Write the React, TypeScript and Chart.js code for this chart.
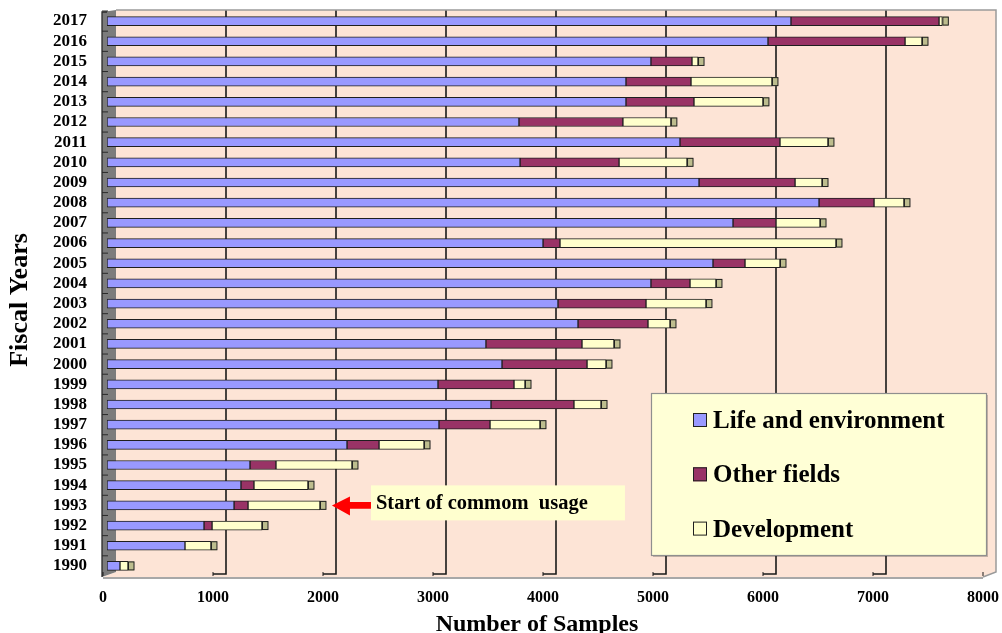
import React, { useEffect, useRef } from 'react';
import { Chart, registerables } from 'chart.js';

Chart.register(...registerables);

// Fiscal years, bottom (1990) to top (2017)
const years = [
  '1990', '1991', '1992', '1993', '1994', '1995', '1996', '1997', '1998', '1999',
  '2000', '2001', '2002', '2003', '2004', '2005', '2006', '2007', '2008', '2009',
  '2010', '2011', '2012', '2013', '2014', '2015', '2016', '2017',
];

// Number of samples per field
const lifeAndEnvironment = [
  118, 709, 882, 1155, 1218, 1300, 2182, 3018, 3491, 3009,
  3591, 3445, 4282, 4100, 4945, 5509, 3964, 5691, 6473, 5382,
  3755, 5209, 3745, 4718, 4718, 4945, 6009, 6218,
];
const otherFields = [
  0, 0, 73, 127, 118, 236, 291, 464, 754, 691,
  773, 873, 636, 800, 355, 291, 154, 391, 500, 873,
  900, 909, 945, 618, 591, 373, 1246, 1346,
];
const development = [
  73, 236, 454, 654, 491, 691, 409, 454, 246, 100,
  172, 291, 200, 545, 236, 318, 2509, 400, 272, 245,
  618, 436, 436, 627, 736, 55, 154, 30,
];

const sampleTicks = [0, 1000, 2000, 3000, 4000, 5000, 6000, 7000, 8000];

const SERIF = "'Liberation Serif', 'Times New Roman', serif";
const PEACH = '#FDE4D6';
const BLUE = '#9999FF';
const MAROON = '#993366';
const CREAM = '#FFFFCC';
const OUTLINE = '#1f1f1f';

// depth offsets of the 3-D box, in pixels relative to the bar plane
const BACK_DX = 9;
const FRONT_DX = -4;
const WALL_TOP = 10;
const BACK_BOTTOM = 572;
const FRONT_BOTTOM = 577;

const wallPlugin = {
  id: 'wall3d',
  beforeDatasetsDraw(chart: any) {
    const { ctx } = chart;
    const xs = chart.scales.x;
    const ys = chart.scales.y;
    const X = (v: number) => xs.getPixelForValue(v);
    const left = X(sampleTicks[0]);
    const right = X(sampleTicks[sampleTicks.length - 1]);
    ctx.save();

    // back wall
    ctx.fillStyle = PEACH;
    ctx.fillRect(left + BACK_DX, WALL_TOP, right - left, BACK_BOTTOM - WALL_TOP);
    // floor
    ctx.beginPath();
    ctx.moveTo(left + BACK_DX, BACK_BOTTOM);
    ctx.lineTo(right + BACK_DX, BACK_BOTTOM);
    ctx.lineTo(right + FRONT_DX, FRONT_BOTTOM);
    ctx.lineTo(left + FRONT_DX, FRONT_BOTTOM);
    ctx.closePath();
    ctx.fill();

    // floor front shadow
    ctx.strokeStyle = '#a8a8a8';
    ctx.lineWidth = 2;
    ctx.beginPath();
    ctx.moveTo(left + FRONT_DX, FRONT_BOTTOM + 1);
    ctx.lineTo(right + FRONT_DX, FRONT_BOTTOM + 1);
    ctx.stroke();

    // grey side wall
    ctx.fillStyle = '#7c7c7c';
    ctx.beginPath();
    ctx.moveTo(left + FRONT_DX - 1, WALL_TOP + 2);
    ctx.lineTo(left + BACK_DX, WALL_TOP);
    ctx.lineTo(left + BACK_DX, BACK_BOTTOM);
    ctx.lineTo(left + FRONT_DX - 1, FRONT_BOTTOM);
    ctx.closePath();
    ctx.fill();
    ctx.strokeStyle = '#2a2a2a';
    ctx.lineWidth = 1.3;
    ctx.beginPath();
    ctx.moveTo(left + FRONT_DX + 4, WALL_TOP + 2);
    ctx.lineTo(left + FRONT_DX - 1, WALL_TOP + 2);
    ctx.lineTo(left + FRONT_DX - 1, FRONT_BOTTOM);
    ctx.stroke();

    // category tick marks on the side wall
    const n = years.length;
    const step = Math.abs(ys.getPixelForValue(0) - ys.getPixelForValue(1));
    ctx.lineWidth = 1;
    for (let i = 0; i < n; i++) {
      const yb = ys.getPixelForValue(i) - step / 2;
      ctx.beginPath();
      ctx.moveTo(left + FRONT_DX - 1, yb);
      ctx.lineTo(left + FRONT_DX + 5, yb);
      ctx.stroke();
    }

    // vertical gridlines on the back wall with their floor segments
    ctx.strokeStyle = '#1a1a1a';
    for (const v of sampleTicks) {
      const bx = X(v) + BACK_DX;
      const fx = X(v) + FRONT_DX;
      ctx.lineWidth = 1;
      ctx.beginPath();
      ctx.moveTo(fx, BACK_BOTTOM);
      ctx.lineTo(fx, FRONT_BOTTOM - 1);
      ctx.stroke();
      if (v === sampleTicks[0] || v === sampleTicks[sampleTicks.length - 1]) continue;
      ctx.lineWidth = 1.6;
      ctx.beginPath();
      ctx.moveTo(bx, WALL_TOP);
      ctx.lineTo(bx, BACK_BOTTOM + 2);
      ctx.lineTo(fx, BACK_BOTTOM + 2);
      ctx.stroke();
    }

    // outer frame of the back wall
    ctx.strokeStyle = '#9a9a9a';
    ctx.lineWidth = 1.5;
    ctx.beginPath();
    ctx.moveTo(left + BACK_DX, WALL_TOP);
    ctx.lineTo(right + BACK_DX, WALL_TOP);
    ctx.lineTo(right + BACK_DX, BACK_BOTTOM);
    ctx.lineTo(right + FRONT_DX, FRONT_BOTTOM);
    ctx.stroke();
    ctx.restore();
  },
  afterDatasetsDraw(chart: any) {
    // end caps showing the depth of each stacked bar
    const { ctx } = chart;
    const sets = chart.data.datasets;
    ctx.save();
    for (let j = 0; j < years.length; j++) {
      let k = -1;
      for (let d = 0; d < sets.length; d++) if (sets[d].data[j] > 0) k = d;
      if (k < 0) continue;
      const el = chart.getDatasetMeta(k).data[j];
      const { x, y, height } = el.getProps(['x', 'y', 'height'], true);
      const top = y - height / 2;
      ctx.fillStyle = '#BDBD8E';
      ctx.fillRect(x, top, 6, height);
      ctx.strokeStyle = OUTLINE;
      ctx.lineWidth = 1;
      ctx.strokeRect(x + 0.5, top + 0.5, 5.5, height - 1);
    }
    ctx.restore();
  },
  afterDraw(chart: any) {
    const { ctx } = chart;
    const xs = chart.scales.x;
    const ys = chart.scales.y;
    ctx.save();

    // axis titles
    ctx.fillStyle = '#000';
    ctx.font = `bold 26px ${SERIF}`;
    ctx.textAlign = 'center';
    ctx.textBaseline = 'alphabetic';
    ctx.save();
    ctx.translate(27, 300);
    ctx.rotate(-Math.PI / 2);
    ctx.fillText('Fiscal Years', 0, 0);
    ctx.restore();
    ctx.font = `bold 24px ${SERIF}`;
    ctx.fillText('Number of Samples', 537, 631);

    // legend box
    const lx = 651, ly = 393, lw = 335, lh = 162;
    ctx.fillStyle = 'rgba(0,0,0,0.22)';
    ctx.fillRect(lx + 2, ly + 2, lw, lh);
    ctx.fillStyle = '#FFFFD6';
    ctx.fillRect(lx, ly, lw, lh);
    ctx.strokeStyle = '#8f8f8f';
    ctx.lineWidth = 1.2;
    ctx.strokeRect(lx + 0.5, ly + 0.5, lw, lh);
    ctx.textAlign = 'left';
    ctx.font = `bold 25px ${SERIF}`;
    chart.data.datasets.forEach((ds: any, i: number) => {
      const base = 428 + i * 54.3;
      ctx.fillStyle = ds.backgroundColor;
      ctx.fillRect(693, base - 15, 14, 14);
      ctx.strokeStyle = OUTLINE;
      ctx.lineWidth = 1;
      ctx.strokeRect(693.5, base - 14.5, 13, 13);
      ctx.fillStyle = '#000';
      ctx.fillText(ds.label, 713, base);
    });

    // note on the 1993 bar
    const idx = years.indexOf('1993');
    const total = lifeAndEnvironment[idx] + otherFields[idx] + development[idx];
    const tipX = xs.getPixelForValue(total) + 12;
    const ay = ys.getPixelForValue(idx);
    const boxX = tipX + 39;
    ctx.fillStyle = '#FFFFCF';
    ctx.fillRect(boxX, ay - 20, 254, 35);
    ctx.fillStyle = '#FF0000';
    ctx.beginPath();
    ctx.moveTo(tipX, ay);
    ctx.lineTo(tipX + 18, ay - 9);
    ctx.lineTo(tipX + 18, ay - 3.3);
    ctx.lineTo(boxX, ay - 3.3);
    ctx.lineTo(boxX, ay + 3.3);
    ctx.lineTo(tipX + 18, ay + 3.3);
    ctx.lineTo(tipX + 18, ay + 10);
    ctx.closePath();
    ctx.fill();
    ctx.fillStyle = '#000';
    ctx.font = `bold 20.5px ${SERIF}`;
    ctx.fillText('Start of commom  usage', boxX + 5, ay + 4);
    ctx.restore();
  },
};

export default function App() {
  const canvasRef = useRef<HTMLCanvasElement | null>(null);

  useEffect(() => {
    if (!canvasRef.current) return;
    const chart = new Chart(canvasRef.current, {
      type: 'bar',
      data: {
        labels: years,
        datasets: [
          { label: 'Life and environment', data: lifeAndEnvironment, backgroundColor: BLUE },
          { label: 'Other fields', data: otherFields, backgroundColor: MAROON },
          { label: 'Development', data: development, backgroundColor: CREAM },
        ].map((d) => ({
          ...d,
          borderColor: OUTLINE,
          borderWidth: 1,
          borderSkipped: false,
          barThickness: 9,
          stack: 'samples',
        })),
      },
      options: {
        indexAxis: 'y',
        animation: false,
        responsive: true,
        maintainAspectRatio: false,
        layout: { padding: { top: 11, right: 15, bottom: 0, left: 0 } },
        plugins: {
          legend: { display: false },
          tooltip: { enabled: false },
        },
        scales: {
          x: {
            type: 'linear',
            stacked: true,
            min: 0,
            max: 8000,
            afterBuildTicks: (scale: any) => {
              scale.ticks = sampleTicks.map((value) => ({ value }));
            },
            afterFit: (scale: any) => {
              scale.height = 57;
              scale.paddingLeft = 0;
              scale.paddingRight = 0;
            },
            grid: { display: false, drawTicks: false },
            border: { display: false },
            ticks: {
              color: '#000',
              padding: 12,
              labelOffset: -4,
              maxRotation: 0,
              autoSkip: false,
              callback: (value: any) => String(value),
              font: { family: SERIF, size: 16, weight: 'bold' },
            },
          },
          y: {
            type: 'category',
            stacked: true,
            reverse: true,
            afterFit: (scale: any) => {
              scale.width = 107;
              scale.paddingTop = 0;
              scale.paddingBottom = 0;
            },
            grid: { display: false, drawTicks: false },
            border: { display: false },
            ticks: {
              color: '#000',
              padding: 20,
              autoSkip: false,
              font: { family: SERIF, size: 17, weight: 'bold' },
            },
          },
        },
      },
      plugins: [wallPlugin],
    } as any);
    return () => chart.destroy();
  }, []);

  return (
    <div style={{ position: 'fixed', left: 0, top: 0, width: 1002, height: 633, background: '#fff' }}>
      <canvas ref={canvasRef} />
    </div>
  );
}
